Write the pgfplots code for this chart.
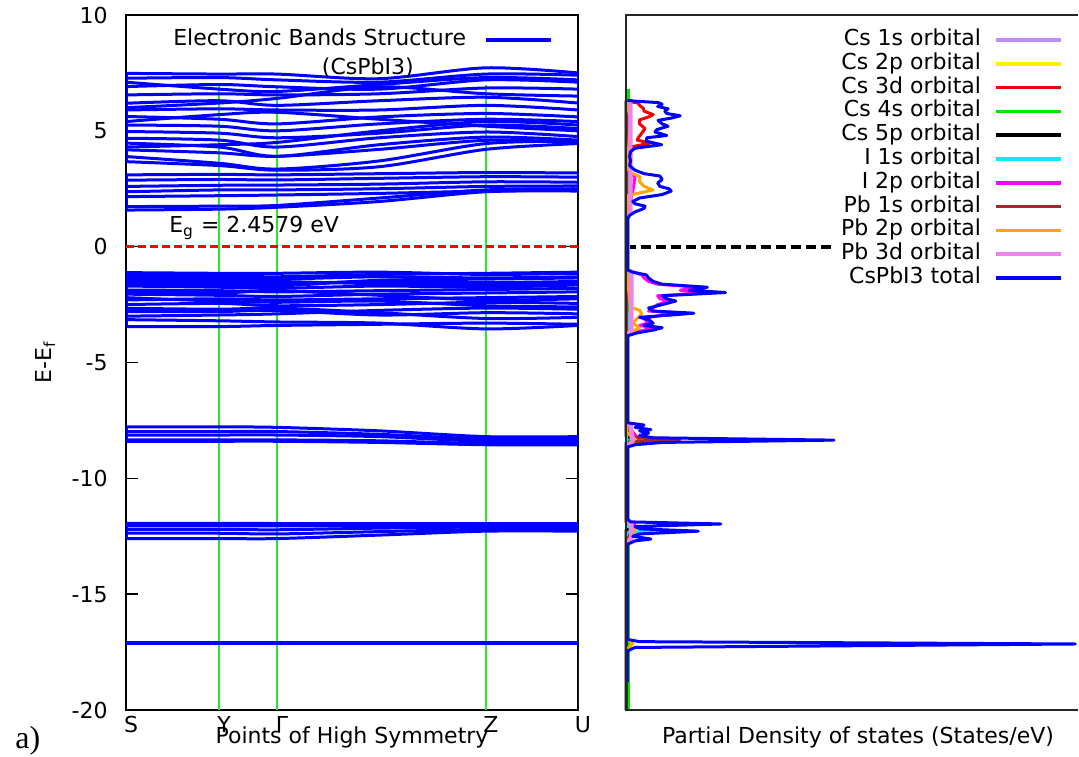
\documentclass[border=0pt]{standalone}
\usepackage{pgfplots}
\pgfplotsset{compat=1.18}
\usepackage{pgfplotstable}
\usepackage{fontspec}
\setmainfont{DejaVu Sans}
\newfontfamily\serifa{Liberation Serif}

\definecolor{bblue}{RGB}{0,0,255}
\definecolor{sgreen}{RGB}{40,235,40}
\definecolor{cs1s}{RGB}{190,140,255}
\definecolor{cs2p}{RGB}{255,240,0}
\definecolor{cs3d}{RGB}{240,0,0}
\definecolor{cs4s}{RGB}{0,230,0}
\definecolor{cs5p}{RGB}{0,0,0}
\definecolor{i1s}{RGB}{0,240,255}
\definecolor{i2p}{RGB}{255,0,255}
\definecolor{pb1s}{RGB}{165,40,40}
\definecolor{pb2p}{RGB}{255,165,0}
\definecolor{pb3d}{RGB}{238,130,238}

\pgfplotsset{bandline/.style={bblue, line width=1.5pt, smooth, line join=round, forget plot}}
\pgfplotsset{dosline/.style={line width=1.5pt, line join=round}}

% ---------- band structure (k: S=0, Y=0.206, Gamma=0.334, Z=0.796, U=1) ----------
\pgfplotstableread{
k b1 b2 b3 b4 b5 b6 b7 b8 b9 b10 b11 b12 b13 b14 b15 b16 b17 b18
0     7.48 7.27 6.91 6.55 6.19 5.90 5.62 5.25 4.97 4.68 4.47 4.18 3.89 3.67 6.00 5.40 7.10 4.30
0.206 7.45 7.30 7.00 6.60 6.30 5.95 5.50 5.20 4.90 4.60 4.30 4.05 3.60 3.50 6.20 5.70 6.80 4.40
0.334 7.45 7.20 6.90 6.55 6.10 5.90 5.30 5.00 4.70 4.30 3.90 3.90 3.35 3.30 6.40 5.80 6.70 4.50
0.56  7.25 7.10 6.80 6.60 6.30 5.90 5.60 5.30 4.90 4.70 4.40 4.20 3.70 3.45 6.90 5.50 7.00 5.00
0.796 7.72 7.45 7.20 6.85 6.45 6.10 5.75 5.50 5.25 4.95 4.73 4.59 4.45 4.20 6.60 5.20 7.30 5.40
1     7.50 7.40 7.10 6.80 6.20 5.90 5.60 5.40 5.10 4.75 4.60 4.50 4.55 4.45 6.50 5.00 7.20 5.25
}\cbup
\pgfplotstableread{
k c1 c2 c3 c4 c5 c6 c7
0     3.10 2.87 2.60 2.37 2.16 1.58 1.73
0.206 3.12 2.90 2.65 2.45 2.20 1.62 1.75
0.334 3.10 2.88 2.66 2.45 2.23 1.70 1.78
0.56  3.15 2.95 2.70 2.50 2.30 1.95 2.10
0.796 3.20 3.02 2.80 2.60 2.40 2.37 2.45
1     3.18 3.00 2.78 2.62 2.45 2.40 2.50
}\cblow
\pgfplotstableread{
k v1 v2 v3 v4 v5 v6 v7 v8 v9 v10 v11 v12 v13 v14 v15 v16 v17 v18
0     -1.12 -1.30 -1.50 -1.70 -1.87 -2.05 -2.30 -2.50 -2.66 -3.00 -3.15 -3.45 -1.95 -1.20 -1.40 -2.20 -2.80 -1.60
0.206 -1.15 -1.35 -1.55 -1.75 -1.90 -2.10 -2.25 -2.45 -2.70 -2.95 -3.20 -3.45 -2.00 -1.25 -1.45 -2.35 -2.80 -1.65
0.334 -1.15 -1.40 -1.60 -1.80 -1.95 -2.15 -2.30 -2.55 -2.65 -2.90 -3.25 -3.40 -1.90 -1.30 -1.50 -2.40 -2.75 -1.70
0.56  -1.10 -1.30 -1.50 -1.70 -1.90 -2.05 -2.25 -2.50 -2.85 -2.75 -3.30 -3.35 -2.10 -1.20 -1.60 -2.35 -2.95 -1.45
0.796 -1.20 -1.35 -1.55 -1.75 -1.85 -2.00 -2.20 -2.40 -3.10 -2.65 -3.55 -3.30 -2.30 -1.15 -1.65 -2.55 -2.85 -1.40
1     -1.15 -1.30 -1.50 -1.65 -1.80 -1.95 -2.15 -2.45 -3.05 -2.70 -3.40 -3.35 -2.25 -1.10 -1.60 -2.60 -2.90 -1.35
}\vb
\pgfplotstableread{
k d1 d2 d3 d4 d5 e1 e2 e3 e4 e5 f1 f2
0     -7.78 -7.98 -8.13 -8.34 -8.40 -11.94 -12.05 -12.20 -12.37 -12.60 -17.08 -17.14
0.206 -7.78 -7.98 -8.13 -8.34 -8.40 -11.94 -12.05 -12.20 -12.37 -12.60 -17.08 -17.14
0.334 -7.80 -7.98 -8.13 -8.34 -8.40 -11.95 -12.05 -12.22 -12.40 -12.60 -17.08 -17.14
0.56  -7.95 -8.10 -8.20 -8.38 -8.45 -11.95 -12.05 -12.15 -12.30 -12.45 -17.08 -17.14
0.796 -8.20 -8.30 -8.40 -8.50 -8.55 -11.95 -12.02 -12.10 -12.20 -12.28 -17.08 -17.14
1     -8.20 -8.30 -8.40 -8.50 -8.55 -11.95 -12.02 -12.10 -12.20 -12.28 -17.08 -17.14
}\core

% ---------- DOS (E = energy, d = states/eV) ----------
\pgfplotstableread{
E d
-12.8 0.1
-12.0 0.5
-11.8 0.1
-8.6 0.1
-8.3 0.8
-8.0 0.1
-3.7 0.1
-2.0 0.4
-1.0 0.1
1.3 0.1
6.3 0.2
}\dcsa
\pgfplotstableread{
E d
-3.7 0.1
-2.8 0.6
-1.0 0.1
2.4 0.5
3.1 0.3
6.3 0.1
}\dcsb
\pgfplotstableread{
E d
-12.8 0.2
3.5 0.3
4.0 0.8
4.3 1.0
4.47 5.3
4.6 2.5
4.7 2.7
4.9 3.5
5.1 4.2
5.3 3.0
5.47 3.0
5.6 5.0
5.7 6.0
5.85 4.0
5.98 3.8
6.1 3.0
6.2 2.7
6.28 0.3
}\dcsc
\pgfplotstableread{
E d
-20 0.6
6.8 0.6
}\dcsd
\pgfplotstableread{
E d
-20 0.05
-12.2 0.05
-12.05 1.5
-11.9 0.05
-8.45 0.05
-8.32 10
-8.2 0.05
6.3 0.05
}\dcse
\pgfplotstableread{
E d
-12.8 0.1
-12.35 0.5
-12.22 7
-12.1 0.5
-11.8 0.1
-3.7 0.1
-2.5 1.2
-1.0 0.1
6.3 0.1
}\dia
\pgfplotstableread{
E d
-12.8 0.2
-12.3 1.5
-12.0 2
-11.8 0.2
-8.6 0.2
-8.35 3
-8.0 1.5
-7.6 0.2
-3.8 0.2
-3.6 4
-3.5 6
-3.4 3
-3.3 5
-3.1 4
-2.95 8
-2.87 13
-2.78 5
-2.5 7
-2.35 9.5
-2.25 7.5
-2.12 7
-1.98 19
-1.88 12
-1.75 16
-1.62 7
-1.5 5
-1.35 4
-1.22 3.5
-1.0 0.2
1.3 0.2
2.4 1.5
3.0 2
3.3 0.3
6.3 0.2
}\dib
\pgfplotstableread{
E d
-12.8 0.1
-12.1 1.5
-11.8 0.1
-8.6 0.1
-8.42 1
-8.32 12
-8.22 1
-7.9 0.1
6.3 0.1
}\dpba
\pgfplotstableread{
E d
-17.4 0.1
-17.12 1.5
-16.9 0.1
-12.8 0.1
-12.25 2
-11.8 0.1
-8.6 0.1
-8.3 2
-8.0 0.1
-3.8 0.1
-3.6 2
-3.5 3
-3.3 1.5
-3.1 2.5
-2.9 3.5
-2.75 3
-2.6 1
-1.0 0.1
2.2 0.3
2.45 6
2.6 4
2.8 3
3.02 3.1
3.2 1
3.4 0.3
5.5 1
6.3 0.1
}\dpbb
\pgfplotstableread{
E d
-12.85 0.3
-12.6 1.2
-12.0 1.2
-11.75 0.3
-8.6 0.3
-8.4 1.5
-7.7 1.0
-7.6 0.3
-3.8 0.3
-3.6 1.2
-1.1 1.2
-1.0 0.3
1.3 0.3
1.5 1.0
6.2 1.0
6.3 0.3
}\dpbc
\pgfplotstableread{
E d
-18.8 0.3
-17.45 0.3
-17.3 2
-17.15 99.4
-17.05 3
-16.95 0.3
-12.85 0.3
-12.7 2
-12.62 5.5
-12.5 1.5
-12.4 3
-12.28 16
-12.18 3
-12.08 2
-11.97 21
-11.88 1
-11.75 0.3
-8.65 0.3
-8.55 2
-8.45 8
-8.35 46
-8.25 6
-8.15 3
-8.05 5
-7.95 3
-7.9 5.5
-7.8 2
-7.7 4
-7.6 0.3
-3.85 0.3
-3.72 2.5
-3.6 6
-3.5 8
-3.4 4
-3.3 6
-3.15 5
-3.05 3
-2.95 10
-2.87 15
-2.78 6
-2.65 5
-2.5 8
-2.35 11
-2.25 9
-2.12 8
-1.98 22
-1.88 14
-1.75 18
-1.62 8
-1.5 6
-1.35 5
-1.22 4.5
-1.1 1.5
-1.0 0.3
1.2 0.3
1.35 0.8
1.5 2
1.65 4
1.75 4.2
1.85 2
1.95 1.5
2.1 3
2.25 8
2.4 10
2.5 9.5
2.6 7.5
2.75 7
2.9 8
3.05 7.5
3.15 4
3.3 2
3.5 0.8
3.7 1
3.9 0.8
4.1 1
4.25 2
4.4 7.9
4.55 4.5
4.7 4.6
4.8 9
4.95 6.4
5.05 6.8
5.2 9.3
5.3 8
5.45 7.1
5.55 10
5.65 12
5.75 9
5.85 8.6
5.95 9.3
6.05 7
6.15 8
6.22 7.1
6.28 2
6.32 0.3
}\dtot

\begin{document}
\fontsize{11}{13}\selectfont
\begin{tikzpicture}[font=\fontsize{11}{13}\selectfont]
\path[use as bounding box] (0,0) rectangle (539.5pt,378pt);

% ================= left: band structure =================
\begin{axis}[
  at={(63pt,23pt)}, anchor=south west,
  scale only axis, width=226pt, height=347.5pt,
  xmin=0, xmax=1, ymin=-20, ymax=10,
  axis line style={black, line width=0.7pt},
  ytick={-20,-15,-10,-5,0,5,10},
  major tick length=6pt,
  tick style={black, line width=0.7pt},
  xtick={0,0.206,0.334,0.796,1},
  xticklabels={S,Y,Γ,Z,U},
  xtick style={draw=none},
  /pgf/number format/assume math mode=true,
  tick label style={font=\fontsize{11}{13}\selectfont},
  yticklabel style={anchor=east, inner sep=0pt, xshift=-9pt},
  xticklabel style={anchor=north, inner sep=0pt, yshift=-3pt, xshift=2.5pt},
  xlabel={Points of High Symmetry},
  xlabel style={at={(axis description cs:0.5,-0.023)}, anchor=north, inner sep=0pt},
  ylabel={E-E\textsubscript{f}},
  ylabel style={at={(axis description cs:-0.179,0.5)}, anchor=center, inner sep=0pt},
  legend style={at={(1,1)}, anchor=north east, xshift=-12.5pt, yshift=-7pt,
    draw=none, fill=none, inner sep=0pt, column sep=9pt,
    font=\fontsize{11}{13}\selectfont,
    nodes={inner sep=0pt, text height=8pt, text depth=2.5pt}},
  legend plot pos=right,
  legend cell align=right,
  legend image code/.code={\draw[#1,line width=1.8pt] (0pt,0pt) -- (32.5pt,0pt);},
]
\addlegendimage{bblue}
\addlegendentry{Electronic Bands Structure}
% symmetry lines
\addplot[sgreen, line width=1pt, forget plot] coordinates {(0.206,-20) (0.206,7.0)};
\addplot[sgreen, line width=1pt, forget plot] coordinates {(0.334,-20) (0.334,7.0)};
\addplot[sgreen, line width=1pt, forget plot] coordinates {(0.796,-20) (0.796,7.0)};
\addplot[sgreen, line width=1.2pt, forget plot] coordinates {(1.003,-20) (1.003,4.0)};
% Fermi level
\addplot[red, line width=1.6pt, dash pattern=on 4pt off 2pt, forget plot] coordinates {(0,0) (1,0)};
% bands
\pgfplotsinvokeforeach{b1,b2,b3,b4,b5,b6,b7,b8,b9,b10,b11,b12,b13,b14,b15,b16,b17,b18}{
  \addplot[bandline] table[x=k,y=#1]{\cbup};}
\pgfplotsinvokeforeach{c1,c2,c3,c4,c5,c6,c7}{
  \addplot[bandline] table[x=k,y=#1]{\cblow};}
\pgfplotsinvokeforeach{v1,v2,v3,v4,v5,v6,v7,v8,v9,v10,v11,v12,v13,v14,v15,v16,v17,v18}{
  \addplot[bandline] table[x=k,y=#1]{\vb};}
\pgfplotsinvokeforeach{d1,d2,d3,d4,d5,e1,e2,e3,e4,e5,f1,f2}{
  \addplot[bandline] table[x=k,y=#1]{\core};}
% band ends joined at S and U
\addplot[bandline] coordinates {(0,3.67) (0,7.48)};
\addplot[bandline] coordinates {(0,1.58) (0,3.10)};
\addplot[bandline] coordinates {(0,-3.45) (0,-1.12)};
\addplot[bandline] coordinates {(0,-8.40) (0,-7.78)};
\addplot[bandline] coordinates {(0,-12.60) (0,-11.94)};
\addplot[bandline] coordinates {(1,4.45) (1,7.50)};
\addplot[bandline] coordinates {(1,2.40) (1,3.18)};
\addplot[bandline] coordinates {(1,-3.40) (1,-1.10)};
\addplot[bandline] coordinates {(1,-8.55) (1,-8.20)};
\addplot[bandline] coordinates {(1,-12.28) (1,-11.95)};
\node[inner sep=0pt, anchor=center] at (axis cs:0.535,7.75) {(CsPbI3)};
\node[inner sep=0pt, anchor=base west] at (axis cs:0.095,0.6) {E\textsubscript{g} = 2.4579 eV};
\end{axis}

% ================= right: PDOS =================
\begin{axis}[
  at={(313pt,23pt)}, anchor=south west,
  scale only axis, width=226pt, height=347.5pt,
  xmin=0, xmax=100, ymin=-20, ymax=10,
  xtick=\empty, ytick=\empty,
  axis line style={draw=none},
  clip=false,
  xlabel={Partial Density of states (States/eV)},
  xlabel style={at={(axis description cs:0.5,-0.023)}, anchor=north, inner sep=0pt, xshift=3pt},
  legend style={at={(1,1)}, anchor=north east, xshift=-7.5pt, yshift=-7pt,
    draw=none, fill=none, inner sep=0pt, column sep=6.5pt, row sep=1.4pt,
    font=\fontsize{11}{13}\selectfont,
    nodes={inner sep=0pt, text height=8pt, text depth=2.5pt}},
  legend plot pos=right,
  legend cell align=right,
  legend image code/.code={\draw[#1,line width=1.8pt] (0pt,0pt) -- (32.5pt,0pt);},
]
\addplot[black, line width=2pt, dash pattern=on 5pt off 2.5pt, forget plot] coordinates {(0,0) (46.2,0)};
\addplot[dosline, cs1s] table[x=d,y=E]{\dcsa};
\addlegendentry{Cs 1s orbital}
\addplot[dosline, cs2p] table[x=d,y=E]{\dcsb};
\addlegendentry{Cs 2p orbital}
\addplot[dosline, cs3d] table[x=d,y=E]{\dcsc};
\addlegendentry{Cs 3d orbital}
\addplot[dosline, cs4s] table[x=d,y=E]{\dcsd};
\addlegendentry{Cs 4s orbital}
\addplot[dosline, cs5p] table[x=d,y=E]{\dcse};
\addlegendentry{Cs 5p orbital}
\addplot[dosline, i1s] table[x=d,y=E]{\dia};
\addlegendentry{I 1s orbital}
\addplot[dosline, i2p] table[x=d,y=E]{\dib};
\addlegendentry{I 2p orbital}
\addplot[dosline, pb1s] table[x=d,y=E]{\dpba};
\addlegendentry{Pb 1s orbital}
\addplot[dosline, pb2p] table[x=d,y=E]{\dpbb};
\addlegendentry{Pb 2p orbital}
\addplot[dosline, pb3d, line width=2.2pt] table[x=d,y=E]{\dpbc};
\addlegendentry{Pb 3d orbital}
\addplot[dosline, bblue] table[x=d,y=E]{\dtot};
\addlegendentry{CsPbI3 total}
\draw[black!85, line width=0.7pt] (rel axis cs:1,1) -- (rel axis cs:0,1) -- (rel axis cs:0,0) -- (rel axis cs:1,0);
\end{axis}

\node[anchor=base west, inner sep=0pt, font=\serifa\fontsize{16}{19}\selectfont] at (7.5pt,4pt) {a)};
\end{tikzpicture}
\end{document}
